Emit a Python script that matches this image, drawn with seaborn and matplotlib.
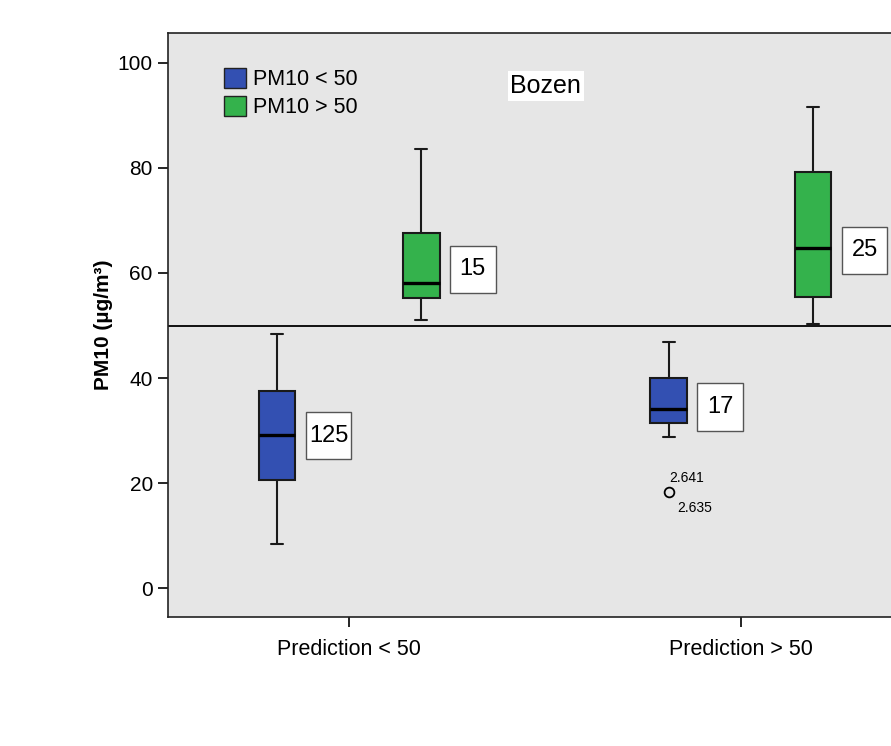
import pandas as pd
import matplotlib
matplotlib.use("Agg")
import matplotlib.pyplot as plt
from matplotlib.patches import Patch, Rectangle
import seaborn as sns

# --- DATA ---
PREDICTION = ["Prediction < 50", "Prediction < 50", "Prediction > 50", "Prediction > 50"]
MEASURED = ["PM10 < 50", "PM10 > 50", "PM10 < 50", "PM10 > 50"]
LOW_WHISKER = [8.4, 51.0, 28.8, 50.3]
Q1 = [20.6, 55.2, 31.4, 55.4]
MEDIAN = [29.1, 58.1, 34.1, 64.8]
Q3 = [37.5, 67.6, 40.0, 79.2]
HIGH_WHISKER = [48.4, 83.6, 46.9, 91.6]
COUNTS = [125, 15, 17, 25]
OUTLIER_BOX = 2
OUTLIER_VALUE = 18.3
OUTLIER_IDS = ["2.641", "2.635"]
THRESHOLD = 50

CATEGORIES = ["Prediction < 50", "Prediction > 50"]
GROUPS = ["PM10 < 50", "PM10 > 50"]
PALETTE = {"PM10 < 50": "#3350b2", "PM10 > 50": "#34b24c"}

# --- LAYOUT ---
GROUP_WIDTH = 0.736
GAP = 0.745
OFFSET = GROUP_WIDTH / 4
BOX_HALF = GROUP_WIDTH / 4 * (1 - GAP)
LABEL_Y = [29.0, 60.7, 34.5, 64.3]

# five points per box -> quartiles land exactly on the read values
rows = []
for i in range(len(PREDICTION)):
    for v in (LOW_WHISKER[i], Q1[i], MEDIAN[i], Q3[i], HIGH_WHISKER[i]):
        rows.append({"prediction": PREDICTION[i], "measured": MEASURED[i], "pm10": v})
df = pd.DataFrame(rows)

sns.set_theme(style="ticks")
plt.rcParams["font.family"] = ["Liberation Sans", "DejaVu Sans"]
plt.rcParams["text.color"] = "black"
plt.rcParams["axes.labelcolor"] = "black"

fig = plt.figure(figsize=(8.91, 7.46), dpi=100)
ax = fig.add_axes([0.1886, 0.1729, 0.8462, 0.7829])
ax.set_facecolor("#e6e6e6")

sns.boxplot(data=df, x="prediction", y="pm10", hue="measured",
            order=CATEGORIES, hue_order=GROUPS, palette=PALETTE,
            width=GROUP_WIDTH, gap=GAP, whis=(0, 100), showfliers=False,
            linewidth=1.5, linecolor="#1a1a1a", saturation=1,
            medianprops=dict(color="black", linewidth=2.4),
            capwidths=0.032, legend=False, ax=ax, zorder=3)

ax.axhline(THRESHOLD, color="black", linewidth=1.3, zorder=2)

# count labels next to each box
for i in range(len(PREDICTION)):
    xc = CATEGORIES.index(PREDICTION[i]) + (OFFSET if MEASURED[i] == GROUPS[1] else -OFFSET)
    left = xc + BOX_HALF + 0.026
    ax.add_patch(Rectangle((left, LABEL_Y[i] - 4.5), 0.117, 9.0, facecolor="white",
                           edgecolor="#555555", linewidth=1.0, zorder=4))
    ax.text(left + 0.0585, LABEL_Y[i], str(COUNTS[i]), ha="center", va="center",
            fontsize=17, color="black", zorder=5)

# outlier
ox = CATEGORIES.index(PREDICTION[OUTLIER_BOX]) - OFFSET
ax.plot([ox], [OUTLIER_VALUE], marker="o", markersize=7, markerfacecolor="none",
        markeredgecolor="black", markeredgewidth=1.3, linestyle="none", zorder=5)
ax.annotate(OUTLIER_IDS[0], (ox, OUTLIER_VALUE), xytext=(0.0, 10), textcoords="offset points",
            ha="left", va="center", fontsize=10)
ax.annotate(OUTLIER_IDS[1], (ox, OUTLIER_VALUE), xytext=(6.0, -11.5), textcoords="offset points",
            ha="left", va="center", fontsize=10)

ax.set_xlim(-0.462, 1.462)
ax.set_ylim(-5.5, 105.7)
ax.set_yticks([0, 20, 40, 60, 80, 100])
ax.set_xlabel("")
ax.set_ylabel("PM10 (µg/m³)", fontsize=15, fontweight="bold", labelpad=3)
ax.tick_params(axis="both", direction="out", length=7, width=1.2, color="black",
               labelsize=15, labelcolor="black")
ax.tick_params(axis="x", pad=9, labelsize=15.5)
ax.tick_params(axis="y", pad=4)
for s in ax.spines.values():
    s.set_visible(True)
    s.set_color("#222222")
    s.set_linewidth(1.2)

handles = [Patch(facecolor=PALETTE[g], edgecolor="#222222", linewidth=1.0, label=g) for g in GROUPS]
ax.legend(handles=handles, loc="upper left", bbox_to_anchor=(0.074, 0.94), frameon=False,
          fontsize=15.5, borderpad=0, borderaxespad=0, handlelength=1.02, handleheight=1.07,
          handletextpad=0.33, labelspacing=0.25, labelcolor="black")

ax.text(0.501, 0.909, "Bozen", transform=ax.transAxes, ha="center", va="center", fontsize=18,
        color="black", bbox=dict(facecolor="white", edgecolor="none", pad=2), zorder=5)

fig.savefig("out.png", dpi=100, facecolor="white")
